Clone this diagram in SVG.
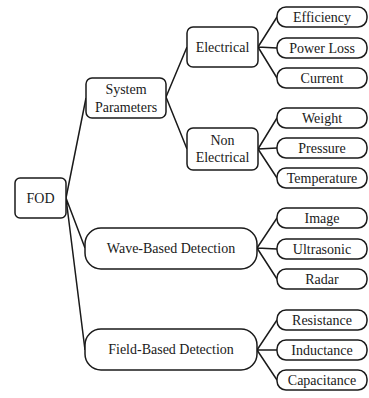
<svg xmlns="http://www.w3.org/2000/svg" width="369" height="398" viewBox="0 0 369 398">
<style>
.n{fill:#fff;stroke:#1a1a1a;stroke-width:1.5}
.t{font-size:14px;fill:#1a1a1a;text-anchor:middle;dominant-baseline:central}
.c{fill:none;stroke:#1a1a1a;stroke-width:1.5}
</style>
<rect width="369" height="398" fill="#fff"/>
<g id="connectors">
<path class="c" d="M66 198L86 98M66 198L85 248M66 198L85 350"/>
<path class="c" d="M166 97L187 47M166 97L187 149"/>
<path class="c" d="M258 47L277 17M258 47L277 48M258 47L277 78"/>
<path class="c" d="M258 149L277 118M258 149L277 148M258 149L277 178"/>
<path class="c" d="M257 248L277 218M257 248L277 249M257 248L277 279"/>
<path class="c" d="M257 350L277 320M257 350L277 350M257 350L277 380"/>
</g>
<g font-family="Liberation Serif, Times New Roman, Times, serif">
<g id="fod"><rect class="n" x="15" y="178" width="51" height="40" rx="5"/><text class="t" x="40.5" y="198">FOD</text></g>
<g id="system"><rect class="n" x="86" y="78" width="80" height="40" rx="6"/><text class="t" x="126" y="89">System</text><text class="t" x="126" y="107">Parameters</text></g>
<g id="electrical"><rect class="n" x="187" y="27" width="71" height="40" rx="6"/><text class="t" x="222.5" y="47">Electrical</text></g>
<g id="nonelectrical"><rect class="n" x="187" y="128" width="71" height="42" rx="6"/><text class="t" x="222.5" y="140">Non</text><text class="t" x="222.5" y="157">Electrical</text></g>
<g id="wave"><rect class="n" x="85" y="228" width="172" height="41" rx="16"/><text class="t" x="171" y="248.5">Wave-Based Detection</text></g>
<g id="field"><rect class="n" x="85" y="329" width="172" height="41" rx="16"/><text class="t" x="171" y="349.5">Field-Based Detection</text></g>
<g id="efficiency"><rect class="n" x="277" y="7" width="90" height="20" rx="9"/><text class="t" x="322" y="17">Efficiency</text></g>
<g id="powerloss"><rect class="n" x="277" y="38" width="90" height="20" rx="9"/><text class="t" x="322" y="48">Power Loss</text></g>
<g id="current"><rect class="n" x="277" y="68" width="90" height="20" rx="9"/><text class="t" x="322" y="78">Current</text></g>
<g id="weight"><rect class="n" x="277" y="108" width="90" height="20" rx="9"/><text class="t" x="322" y="118">Weight</text></g>
<g id="pressure"><rect class="n" x="277" y="138" width="90" height="20" rx="9"/><text class="t" x="322" y="148">Pressure</text></g>
<g id="temperature"><rect class="n" x="277" y="168" width="90" height="20" rx="9"/><text class="t" x="322" y="178">Temperature</text></g>
<g id="image"><rect class="n" x="277" y="208" width="90" height="20" rx="9"/><text class="t" x="322" y="218">Image</text></g>
<g id="ultrasonic"><rect class="n" x="277" y="239" width="90" height="20" rx="9"/><text class="t" x="322" y="249">Ultrasonic</text></g>
<g id="radar"><rect class="n" x="277" y="269" width="90" height="20" rx="9"/><text class="t" x="322" y="279">Radar</text></g>
<g id="resistance"><rect class="n" x="277" y="310" width="90" height="20" rx="9"/><text class="t" x="322" y="320">Resistance</text></g>
<g id="inductance"><rect class="n" x="277" y="340" width="90" height="20" rx="9"/><text class="t" x="322" y="350">Inductance</text></g>
<g id="capacitance"><rect class="n" x="277" y="370" width="90" height="20" rx="9"/><text class="t" x="322" y="380">Capacitance</text></g>
</g>
</svg>
